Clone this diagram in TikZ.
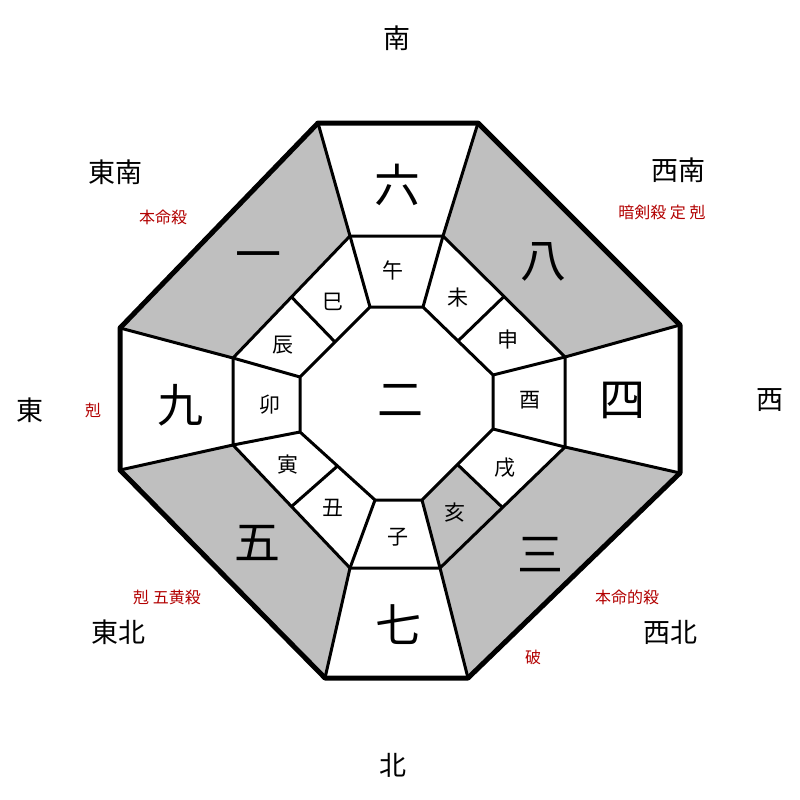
\documentclass[tikz,border=0pt]{standalone}
\usepackage{fontspec}
\newfontfamily\cjk{Noto Sans CJK JP}
\usetikzlibrary{calc}

\begin{document}
\begin{tikzpicture}[x=1pt, y=-1pt, big/.style = {font=\cjk\fontsize{46}{46}\selectfont}, branch/.style = {font=\cjk\fontsize{21}{21}\selectfont}, dir/.style = {font=\cjk\fontsize{27}{27}\selectfont}, note/.style = {font=\cjk\fontsize{16}{16}\selectfont, text=red!70!black}, wall/.style = {line width = 3pt, line join = round}, rim/.style = {line width = 5pt, line join = round}]
        \useasboundingbox (0,0) rectangle (800,800);

        % outer octagon
        \coordinate (o1) at (318,123); \coordinate (o2) at (478,123);
        \coordinate (o3) at (680,325); \coordinate (o4) at (680,473);
        \coordinate (o5) at (468,678); \coordinate (o6) at (325,678);
        \coordinate (o7) at (120,470); \coordinate (o8) at (120,328);
        % middle ring
        \coordinate (m1) at (350,236); \coordinate (m2) at (443,236);
        \coordinate (m3) at (565,357); \coordinate (m4) at (565,447);
        \coordinate (m5) at (440,568); \coordinate (m6) at (350,568);
        \coordinate (m7) at (233,445); \coordinate (m8) at (233,358);
        % inner octagon
        \coordinate (i1) at (370,307); \coordinate (i2) at (423,307);
        \coordinate (i3) at (493,375); \coordinate (i4) at (493,429);
        \coordinate (i5) at (422,500); \coordinate (i6) at (375,500);
        \coordinate (i7) at (300,432); \coordinate (i8) at (300,377);

        \fill [gray!50] (o1) -- (m1) -- (m8) -- (o8) -- cycle;
        \fill [gray!50] (o2) -- (o3) -- (m3) -- (m2) -- cycle;
        \fill [gray!50] (o4) -- (o5) -- (m5) -- (m4) -- cycle;
        \fill [gray!50] (o7) -- (m7) -- (m6) -- (o6) -- cycle;
        \fill [gray!50] ($ (i4)!.5!(i5) $) -- (i5) -- (m5) -- ($ (m4)!.5!(m5) $) -- cycle;

        \draw [wall] (m1) -- (m2) -- (m3) -- (m4) -- (m5) -- (m6) -- (m7) -- (m8) -- cycle;
        \draw [wall] (i1) -- (i2) -- (i3) -- (i4) -- (i5) -- (i6) -- (i7) -- (i8) -- cycle;
        \foreach \n in {1,...,8}
                 {
                   \draw [wall] (o\n) -- (m\n);
                   \draw [wall] (m\n) -- (i\n);
                 }
        \foreach \a/\b in {2/3, 4/5, 6/7, 8/1}
                 {
                   \draw [wall] ($ (i\a)!.5!(i\b) $) -- ($ (m\a)!.5!(m\b) $);
                 }
        \draw [rim] (o1) -- (o2) -- (o3) -- (o4) -- (o5) -- (o6) -- (o7) -- (o8) -- cycle;

        % numbers
        \node [big] (n6) at (397,185) {六};
        \node [big] (n8) at (543,262) {八};
        \node [big] (n1) at (258,262) {一};
        \node [big] (n9) at (180,405) {九};
        \node [big] (n2) at (400,400) {二};
        \node [big] (n4) at (622,400) {四};
        \node [big] (n5) at (257,543) {五};
        \node [big] (n7) at (398,625) {七};
        \node [big] (n3) at (540,555) {三};

        % branches
        \node [branch] (wu) at (393,270) {午};
        \node [branch] (wei) at (458,298) {未};
        \node [branch] (shen) at (508,340) {申};
        \node [branch] (you) at (530,400) {酉};
        \node [branch] (xu) at (505,468) {戌};
        \node [branch] (hai) at (455,513) {亥};
        \node [branch] (zi) at (398,537) {子};
        \node [branch] (chou) at (333,508) {丑};
        \node [branch] (yin) at (288,465) {寅};
        \node [branch] (mao) at (270,405) {卯};
        \node [branch] (chen) at (283,345) {辰};
        \node [branch] (si) at (333,302) {巳};

        % directions
        \node [dir] (s) at (397,38) {南};
        \node [dir] (n) at (393,765) {北};
        \node [dir] (e) at (30,410) {東};
        \node [dir] (w) at (770,400) {西};
        \node [dir] (se) at (115,172) {東南};
        \node [dir] (sw) at (678,170) {西南};
        \node [dir] (ne) at (118,632) {東北};
        \node [dir] (nw) at (670,632) {西北};

        % notes
        \node [note] (t1) at (163,217) {本命殺};
        \node [note] (t2) at (662,212) {暗剣殺 定 剋};
        \node [note] (t3) at (93,410) {剋};
        \node [note] (t4) at (167,597) {剋 五黄殺};
        \node [note] (t5) at (627,597) {本命的殺};
        \node [note] (t6) at (533,657) {破};
\end{tikzpicture}
\end{document}
